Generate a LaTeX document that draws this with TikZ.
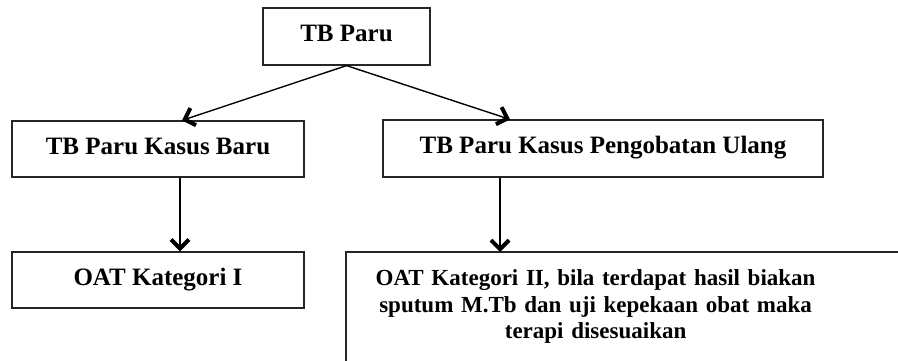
\documentclass[tikz,border=0pt]{standalone}
\usepackage{fontspec}
\setmainfont{Liberation Serif}
\usetikzlibrary{arrows.meta}

\begin{document}
\begin{tikzpicture}[x=1pt,y=-1pt,
        casebox/.style={draw=black!85, line width=1.2pt, font=\fontsize{25}{26.5}\selectfont\bfseries,
            text height=17pt, text depth=7pt, inner sep=0pt},
        flow/.style={line width=1.4pt, -{Straight Barb[length=9pt,width=18pt,line width=4pt]}}]
        \useasboundingbox (0,0) rectangle (898,361);

        \node[casebox, minimum width=167pt, minimum height=57pt] (paru) at (346.5,36.5) {TB Paru};

        \node[casebox, minimum width=292pt, minimum height=56pt] (baru) at (158,149) {TB Paru Kasus Baru};
        \node[casebox, minimum width=440pt, minimum height=57pt] (ulang) at (603,148.5) {TB Paru Kasus Pengobatan Ulang};
        \draw[flow] (paru.south) -- ([xshift=24pt]baru.north);
        \draw[flow] (paru.south) -- ([xshift=-93pt]ulang.north);

        \node[casebox, minimum width=292pt, minimum height=56pt] (kat1) at (158,280) {OAT Kategori I};
        \node[casebox, draw=none, anchor=north west, text width=498pt, align=center, text height=, text depth=,
            font=\fontsize{23}{26.5}\selectfont\bfseries, inner xsep=0pt, inner ysep=17pt] (kat2) at (346,252)
            {OAT Kategori II, bila terdapat hasil biakan\\sputum M.Tb dan uji kepekaan obat maka\\terapi disesuaikan};
        \draw[draw=black!85, line width=1.2pt] ([yshift=-40pt]kat2.south west) |- ([xshift=80pt]kat2.north east);
        \draw[flow] ([xshift=22pt]baru.south) -- ([xshift=22pt]kat1.north);
        \draw[flow] ([xshift=-103pt]ulang.south) -- ([xshift=-103pt]ulang.south |- kat2.north);
    \end{tikzpicture}
\end{document}
